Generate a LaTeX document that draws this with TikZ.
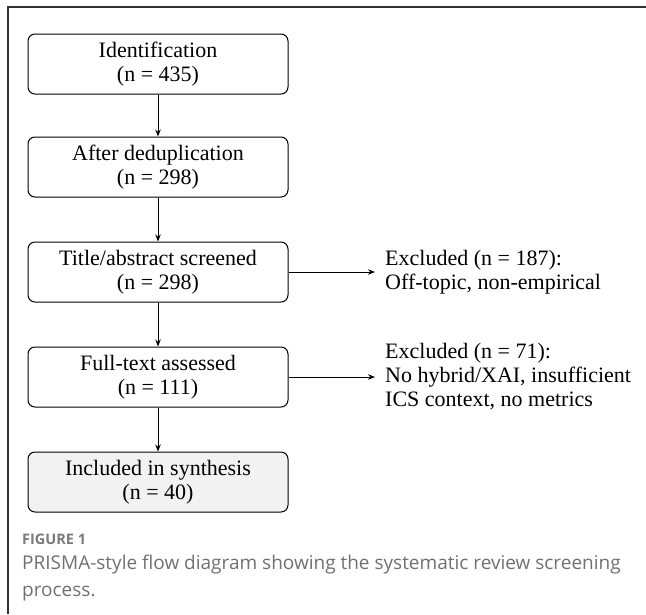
\documentclass[tikz,border=0pt]{standalone}
\usepackage{fontspec}
\setmainfont{Liberation Serif}
\newfontfamily\capfont{Open Sans}
\usetikzlibrary{arrows.meta}
\definecolor{framegray}{HTML}{333333}
\definecolor{capgray}{HTML}{707070}
\definecolor{figgray}{HTML}{7A7A7A}
\definecolor{boxfill}{HTML}{F2F2F2}
\begin{document}
\begin{tikzpicture}[x=1pt,y=-1pt,
  flowbox/.style={draw=black, line width=1pt, rounded corners=7pt, minimum width=260pt, minimum height=60pt, align=center, inner sep=0pt, font=\fontsize{22}{24}\selectfont},
  exclnote/.style={anchor=west, align=left, inner sep=0pt, font=\fontsize{22}{24}\selectfont},
  flowarrow/.style={line width=1pt, -{Stealth[length=7pt,width=5.5pt]}},
  captext/.style={anchor=base west, inner sep=0pt, text=capgray, font=\capfont\fontsize{19}{27}\selectfont}]
\useasboundingbox (0,0) rectangle (646,614);
\draw[framegray, line width=1.3pt] (8,614) -- (8,7) -- (646,7);
\node[flowbox] (id) at (158,64) {Identification\\(n = 435)};
\node[flowbox] (dedup) at (158,167) {After deduplication\\(n = 298)};
\node[flowbox] (screen) at (158,272) {Title/abstract screened\\(n = 298)};
\node[flowbox] (full) at (158,377) {Full-text assessed\\(n = 111)};
\node[flowbox, fill=boxfill] (incl) at (158,482) {Included in synthesis\\(n = 40)};
\coordinate (e1) at (375,272);
\coordinate (e2) at (375,377);
\node[exclnote] (ex1) at (385,272) {Excluded (n = 187):\\Off-topic, non-empirical};
\node[exclnote] (ex2) at (385,377) {Excluded (n = 71):\\No hybrid/XAI, insufficient\\ICS context, no metrics};
\draw[flowarrow] (id) -- (dedup);
\draw[flowarrow] (dedup) -- (screen);
\draw[flowarrow] (screen) -- (full);
\draw[flowarrow] (full) -- (incl);
\draw[flowarrow] (screen.east) -- (e1);
\draw[flowarrow] (full.east) -- (e2);
\node[anchor=base west, inner sep=0pt, text=figgray, font=\capfont\bfseries\fontsize{14.5}{16}\selectfont] (figlabel) at (22,544) {FIGURE 1};
\node[captext] (caption1) at (22,569) {PRISMA-style flow diagram showing the systematic review screening};
\node[captext] (caption2) at (22,596) {process.};
\end{tikzpicture}
\end{document}
